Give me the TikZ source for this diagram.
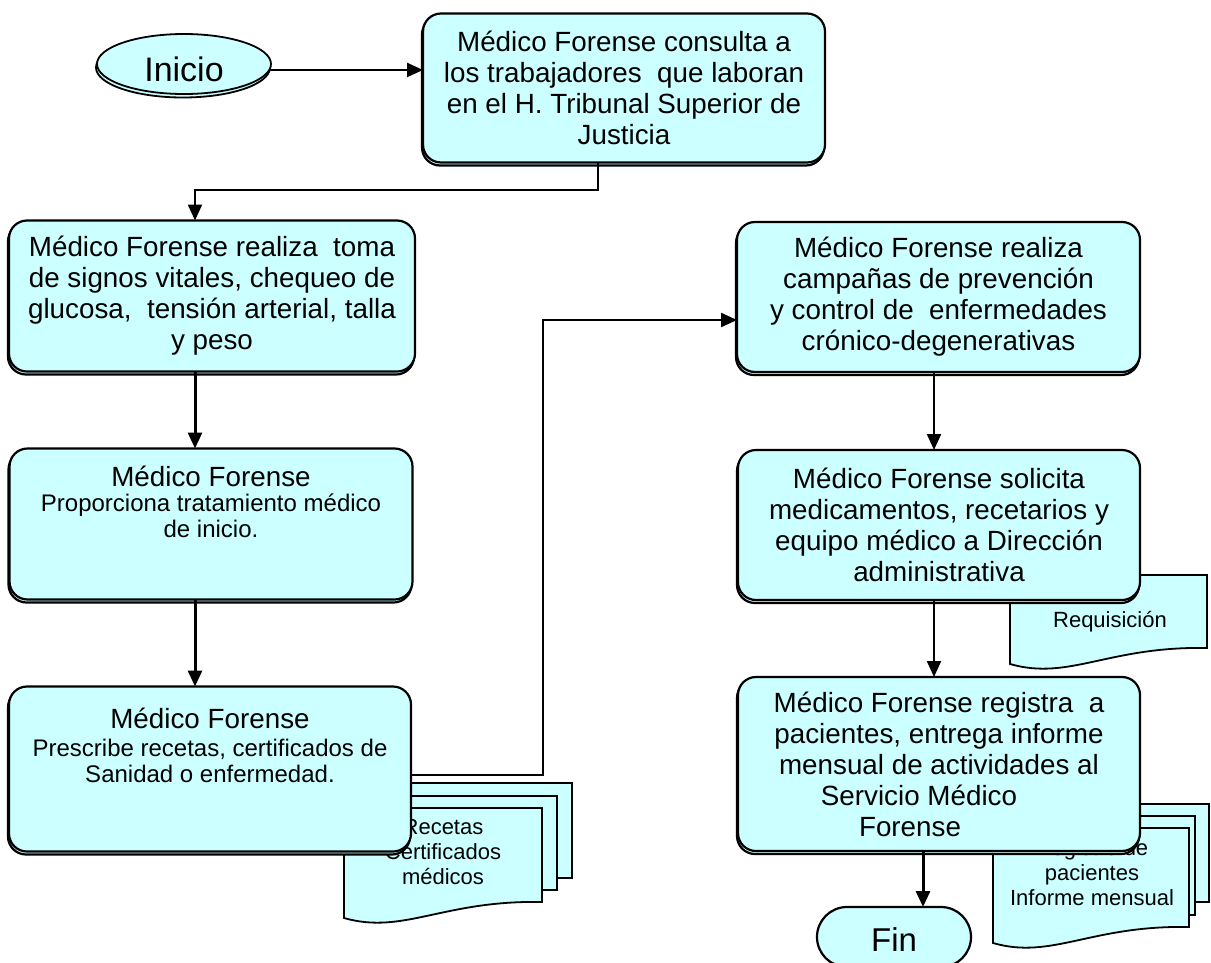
\documentclass[tikz,border=0pt]{standalone}
\usepackage{fontspec}
\setmainfont{Liberation Sans}
\usetikzlibrary{arrows.meta,shapes.geometric,shapes.misc,shadows}
\definecolor{boxfill}{HTML}{CCFFFF}

% document symbol: left, top, right, bottom at the right edge
\newcommand\flowdoc[4]{%
  \pgfmathsetmacro\fdw{#3-#1}%
  \path[docshape] (#1,#2) -- (#3,#2) -- (#3,#4)
    .. controls ({#3-0.5*\fdw},{#4-2}) and ({#1+0.3*\fdw},{#4+33}) .. (#1,{#4+16}) -- cycle;
}

\begin{document}
\begin{tikzpicture}[x=1pt,y=-1pt,
  every node/.style={inner sep=0pt,outer sep=0pt},
  stepbox/.style={draw=black,line width=2.2pt,fill=boxfill,rounded corners=18pt,
    copy shadow={shadow xshift=-1pt,shadow yshift=-3pt}},
  docshape/.style={draw=black,line width=1.8pt,fill=boxfill},
  conn/.style={line width=2.2pt,-{Triangle[length=16pt,width=14pt]}},
  thickconn/.style={conn,line width=3pt},
  bodytext/.style={font=\fontsize{27.8}{31}\selectfont,align=center},
  smalltext/.style={font=\fontsize{24}{26}\selectfont,align=center},
  doctext/.style={font=\fontsize{22}{25}\selectfont,align=center},
]
\path[use as bounding box] (0,0) rectangle (1211,962);
\clip (0,0) rectangle (1211,962);

% paper stacks behind the process boxes
\flowdoc{374}{783}{572}{878}
\flowdoc{359}{796}{557}{890}
\flowdoc{344}{808}{542}{902}
\node[doctext] (d1t) at (443,852) {Recetas\\Certificados\\médicos};

\flowdoc{1010}{575}{1207}{648}
\node[doctext] (d2t) at (1110,622) {Requisición};

\flowdoc{1021}{804}{1209}{902}
\flowdoc{1007}{816}{1195}{915}
\flowdoc{993}{828}{1189}{927}
\node[doctext] (d3t) at (1092,873) {Registro de\\pacientes\\Informe mensual};

% start and end
\node[draw=black,line width=1.8pt,fill=boxfill,ellipse,minimum width=174pt,minimum height=60pt,
  copy shadow={shadow xshift=-1pt,shadow yshift=-3.5pt}] (inicio) at (184,64) {};
\node[font=\fontsize{34}{40}\selectfont] (iniciot) at (184,69) {Inicio};

\node[draw=black,line width=2.2pt,fill=boxfill,rounded rectangle,minimum width=154pt,minimum height=60pt] (fin) at (894,937) {};
\node[font=\fontsize{33}{38}\selectfont] (fint) at (894,940) {Fin};

% process steps
\node[stepbox,bodytext,minimum width=402pt,minimum height=149pt] (b1) at (624,88)
  {Médico Forense consulta a\\los trabajadores\ \ que laboran\\en el H. Tribunal Superior de\\Justicia};

\node[stepbox,bodytext,minimum width=406pt,minimum height=151pt] (b2) at (212,296)
  {Médico Forense realiza\ \ toma\\de signos vitales, chequeo de\\glucosa,\ \ tensión arterial, talla\\y peso};

\node[stepbox,minimum width=403pt,minimum height=151pt] (b3) at (211,524) {};
\node[bodytext] (b3t) at (211,476) {Médico Forense};
\node[smalltext] (b3u) at (211,516) {Proporciona tratamiento médico\\de inicio.};

\node[stepbox,minimum width=402pt,minimum height=165pt] (b4) at (210,769) {};
\node[bodytext] (b4t) at (210,718) {Médico Forense};
\node[smalltext] (b4u) at (210,761) {Prescribe recetas, certificados de\\Sanidad o enfermedad.};

\node[stepbox,bodytext,minimum width=403pt,minimum height=150pt] (b5) at (938.5,297)
  {Médico Forense realiza\\campañas de prevención\\y control de\ \ enfermedades\\crónico-degenerativas};

\node[stepbox,bodytext,minimum width=402pt,minimum height=150pt] (b6) at (939,525)
  {Médico Forense solicita\\medicamentos, recetarios y\\equipo médico a Dirección\\administrativa};

\node[stepbox,bodytext,minimum width=402pt,minimum height=174pt] (b7) at (939,764)
  {Médico Forense registra\ \ a\\pacientes, entrega informe\\mensual de actividades al\\Servicio Médico\hspace*{40pt}\mbox{}\\Forense\hspace*{58pt}\mbox{}};

% connectors
\coordinate (j1) at (598,190);
\coordinate (lc) at (195,190);
\coordinate (j2) at (543,775);
\coordinate (j3) at (543,320);
\coordinate (rc) at (934,0);
\coordinate (fc) at (923,0);

\draw[conn] (inicio.-4) -- (inicio.-4 -| b1.west);
\draw[conn] (b1.south -| j1) -- (j1) -- (lc) -- (lc |- b2.north);
\draw[thickconn] (lc |- b2.south) -- (lc |- b3.north);
\draw[thickconn] (lc |- b3.south) -- (lc |- b4.north);
\draw[conn] (j2 -| b4.east) -- (j2) -- (j3) -- (j3 -| b5.west);
\draw[conn] (rc |- b5.south) -- (rc |- b6.north);
\draw[conn] (rc |- b6.south) -- (rc |- b7.north);
\draw[thickconn] (fc |- b7.south) -- (fc |- fin.north);
\end{tikzpicture}
\end{document}
